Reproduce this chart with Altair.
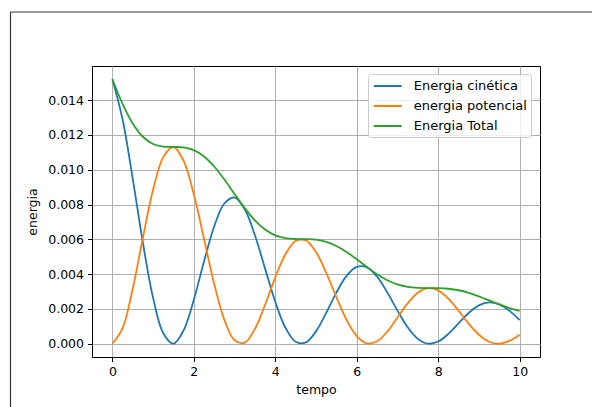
import altair as alt
import pandas as pd

# Energy of a damped oscillator, sampled every 0.25 time units
tempo = [0.0, 0.25, 0.5, 0.75, 1.0, 1.25, 1.5, 1.75, 2.0, 2.25, 2.5, 2.75,
         3.0, 3.25, 3.5, 3.75, 4.0, 4.25, 4.5, 4.75, 5.0, 5.25, 5.5, 5.75,
         6.0, 6.25, 6.5, 6.75, 7.0, 7.25, 7.5, 7.75, 8.0, 8.25, 8.5, 8.75,
         9.0, 9.25, 9.5, 9.75, 10.0]

energia_cinetica = [0.015200, 0.012898, 0.009494, 0.005803, 0.002636, 0.000605,
                    0.000005, 0.000773, 0.002536, 0.004726, 0.006737, 0.008060,
                    0.008401, 0.007725, 0.006237, 0.004317, 0.002410, 0.000919,
                    0.000113, 0.000077, 0.000711, 0.001771, 0.002936, 0.003897,
                    0.004417, 0.004393, 0.003855, 0.002952, 0.001906, 0.000952,
                    0.000282, 0.000006, 0.000130, 0.000569, 0.001174, 0.001771,
                    0.002207, 0.002379, 0.002259, 0.001889, 0.001366]

energia_potencial = [0.000000, 0.000885, 0.003164, 0.006091, 0.008844, 0.010724,
                     0.011305, 0.010509, 0.008588, 0.006035, 0.003448, 0.001378,
                     0.000205, 0.000068, 0.000853, 0.002244, 0.003816, 0.005146,
                     0.005907, 0.005938, 0.005268, 0.004086, 0.002685, 0.001380,
                     0.000439, 0.000018, 0.000141, 0.000701, 0.001504, 0.002317,
                     0.002927, 0.003193, 0.003065, 0.002593, 0.001901, 0.001156,
                     0.000520, 0.000116, 0.000002, 0.000163, 0.000522]

energia_total = [0.015200, 0.013783, 0.012658, 0.011894, 0.011480, 0.011329,
                 0.011310, 0.011282, 0.011124, 0.010761, 0.010185, 0.009438,
                 0.008606, 0.007793, 0.007090, 0.006561, 0.006226, 0.006065,
                 0.006020, 0.006015, 0.005979, 0.005857, 0.005621, 0.005277,
                 0.004856, 0.004411, 0.003996, 0.003653, 0.003410, 0.003269,
                 0.003209, 0.003199, 0.003195, 0.003162, 0.003075, 0.002927,
                 0.002727, 0.002495, 0.002261, 0.002052, 0.001888]

series = ["Energia cinética", "energia potencial", "Energia Total"]
colors = ["#1f77b4", "#ff7f0e", "#2ca02c"]
x_ticks = [0, 2, 4, 6, 8, 10]
y_ticks = [0.000, 0.002, 0.004, 0.006, 0.008, 0.010, 0.012, 0.014]

rows = []
for name, vals in zip(series, [energia_cinetica, energia_potencial, energia_total]):
    for t, e in zip(tempo, vals):
        rows.append({"tempo": t, "energia": e, "serie": name})
df = pd.DataFrame(rows)

FONT = "DejaVu Sans"

# legend handle: a horizontal stroke twice as wide as the nominal symbol box,
# so the entries stay compact while the line sample stays long
HANDLE = "M-2,0H2"

lines = alt.Chart(df).mark_line(strokeWidth=1.8, interpolate="catmull-rom").encode(
    x=alt.X("tempo:Q",
            scale=alt.Scale(domain=[-0.5, 10.5], nice=False, zero=False),
            axis=alt.Axis(values=x_ticks, format="d", title="tempo")),
    y=alt.Y("energia:Q",
            scale=alt.Scale(domain=[-0.00076, 0.01596], nice=False, zero=False),
            axis=alt.Axis(values=y_ticks, format=".3f", title="energia")),
    color=alt.Color("serie:N",
                    scale=alt.Scale(domain=series, range=colors),
                    legend=alt.Legend(
                        title=None, orient="none", legendX=276, legendY=8,
                        symbolType=HANDLE, symbolSize=196, symbolStrokeWidth=2,
                        symbolOffset=7.7,
                        labelFont=FONT, labelFontSize=13, labelColor="black",
                        labelOffset=18, rowPadding=5, padding=4,
                        fillColor="rgba(255,255,255,0.8)", strokeColor="#cccccc",
                        cornerRadius=3)),
)

# figure outline along the top and left edges
edge_df = pd.DataFrame({"k": [0]})
left_edge = alt.Chart(edge_df).mark_rule(color="#333333", strokeWidth=1.2).encode(
    x=alt.value(-81.5), y=alt.value(-54), y2=alt.value(345))
top_edge = alt.Chart(edge_df).mark_rule(color="#333333", strokeWidth=1.2).encode(
    y=alt.value(-54), x=alt.value(-81.5), x2=alt.value(510))

chart = alt.layer(lines, left_edge, top_edge).properties(
    width=448, height=291,
    padding={"left": 92, "top": 66, "right": 52, "bottom": 50},
    autosize=alt.AutoSizeParams(type="none"),
    background="white",
).configure_view(
    stroke="black", strokeWidth=1
).configure_axis(
    labelFont=FONT, labelFontSize=12.5, labelColor="black",
    titleFont=FONT, titleFontSize=12.5, titleFontWeight="normal", titleColor="black",
    tickColor="black", tickSize=4.5, tickWidth=1,
    gridColor="#b0b0b0", gridWidth=1, domain=False, labelPadding=4,
).configure_axisX(titlePadding=5).configure_axisY(titlePadding=8)

chart.save("out.html", embed_options={"renderer": "svg", "actions": False})
